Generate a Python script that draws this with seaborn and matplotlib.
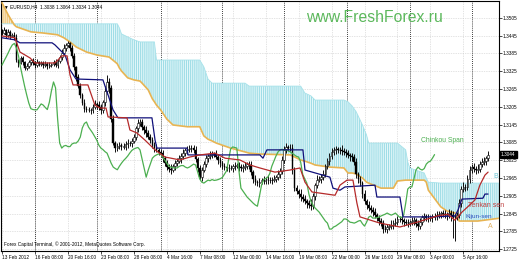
import numpy as np
import matplotlib
matplotlib.use("Agg")
import matplotlib.pyplot as plt
import seaborn as sns
from matplotlib.transforms import blended_transform_factory

sns.set_style("white")
plt.rcParams['font.family'] = ['Liberation Sans', 'DejaVu Sans']
plt.rcParams['hatch.linewidth'] = 0.8

# ---------------- data (EURUSD H4) ----------------
closes = [
    1.3455, 1.3465, 1.3448, 1.3458, 1.3444, 1.3448, 1.3438, 1.3363, 1.3353, 1.3370,
    1.3356, 1.3336, 1.3343, 1.3356, 1.3363, 1.3353, 1.3346, 1.3356, 1.3350, 1.3353,
    1.3346, 1.3350, 1.3343, 1.3346, 1.3350, 1.3356,
    1.3346, 1.3360, 1.3373, 1.3387, 1.3402, 1.3414, 1.3419, 1.3404, 1.3377, 1.3338,
    1.3306, 1.3274, 1.3245, 1.3218, 1.3199, 1.3196, 1.3195, 1.3195, 1.3205, 1.3215,
    1.3211, 1.3203, 1.3196, 1.3221, 1.3259, 1.3289, 1.3269, 1.3164, 1.3083, 1.3066,
    1.3073, 1.3075, 1.3071, 1.3071, 1.3080, 1.3083, 1.3083, 1.3090, 1.3103, 1.3134,
    1.3149, 1.3154, 1.3137, 1.3127, 1.3117, 1.3105, 1.3093, 1.3076, 1.3066, 1.3061,
    1.3054, 1.3049, 1.3032, 1.3015, 1.3002, 1.2997, 1.2993, 1.3005, 1.3015, 1.3024,
    1.3031, 1.3039, 1.3049, 1.3058, 1.3063, 1.3066, 1.3068, 1.3060, 1.3029, 1.2999,
    1.2968, 1.2992, 1.3012, 1.3032, 1.3039, 1.3043, 1.3046, 1.3046, 1.3036, 1.3026,
    1.3015, 1.3005, 1.3002, 1.3000, 1.2999, 1.2999, 1.3004, 1.3007, 1.3007, 1.3002,
    1.2999, 1.3002, 1.3007, 1.3012, 1.3009, 1.2985, 1.2962, 1.2951, 1.2948, 1.2953,
    1.2958, 1.2956, 1.2960, 1.2957, 1.2958, 1.2960, 1.2963, 1.2967, 1.2978, 1.2989,
    1.3026, 1.3063, 1.3070, 1.3068, 1.3066, 1.2992, 1.2931, 1.2921, 1.2911, 1.2901,
    1.2894, 1.2887, 1.2880, 1.2874, 1.2870, 1.2904, 1.2941, 1.2960, 1.2963, 1.2968,
    1.2980, 1.3005, 1.3022, 1.3039, 1.3053, 1.3060, 1.3062, 1.3058, 1.3060, 1.3056,
    1.3053, 1.3048, 1.3043, 1.3038, 1.3036, 1.3019, 1.2977, 1.2962, 1.2948, 1.2911,
    1.2886, 1.2874, 1.2864, 1.2857, 1.2850, 1.2840, 1.2830, 1.2820, 1.2813, 1.2793,
    1.2793, 1.2800, 1.2803, 1.2808, 1.2813, 1.2818, 1.2827, 1.2827, 1.2822, 1.2816,
    1.2815, 1.2813, 1.2816, 1.2820, 1.2822, 1.2811, 1.2803, 1.2816, 1.2833, 1.2837,
    1.2830, 1.2830, 1.2832, 1.2833, 1.2837, 1.2840, 1.2843, 1.2847, 1.2843, 1.2840,
    1.2843, 1.2847, 1.2840, 1.2833, 1.2832, 1.2840, 1.2880, 1.2928, 1.2935, 1.2935,
    1.2962, 1.2992, 1.3002, 1.2995, 1.2992, 1.2997, 1.3012, 1.3019, 1.3022, 1.3032,
    1.3044,
]
upper_wick_pips = [
    6, 9, 4, 8, 5, 7, 10, 12, 5, 8, 6, 4, 9, 7, 5, 8, 6, 10, 4, 7,
    5, 8, 6, 9, 4, 7, 10, 6, 8, 12, 15, 7, 9, 5, 11, 8, 6, 9, 12, 7,
    14, 8, 10, 6, 9, 12, 7, 15, 10, 8, 18, 25, 12, 9, 14, 7, 10, 13, 8, 11,
    9, 14, 7, 10, 12, 8, 16, 9, 11, 7, 13, 10, 8, 12, 9, 15, 7, 10, 11, 8,
    12, 9, 14, 8, 10, 7, 11, 9, 13, 8, 10, 12, 7, 9, 14, 8, 11, 10, 9, 12,
    8, 13, 10, 7, 15, 9, 11, 8, 12, 10, 14, 9, 7, 11, 8, 13, 10, 9, 12, 8,
    10, 12, 8, 14, 9, 11, 7, 13, 10, 16, 12, 9, 11, 8, 14, 10, 12, 9, 13, 7,
    11, 15, 9, 12, 8, 18, 10, 13, 9, 11, 20, 12, 8, 14, 10, 9, 12, 8, 11, 10,
    14, 9, 12, 8, 11, 16, 10, 9, 13, 8, 12, 10, 15, 9, 11, 8, 13, 10, 12, 9,
    11, 14, 8, 12, 10, 9, 13, 11, 8, 15, 10, 12, 9, 11, 14, 8, 10, 13, 9, 12,
    10, 8, 12, 14, 9, 11, 8, 13, 10, 12, 9, 15, 11, 8, 10, 13, 9, 12, 10, 14,
    12, 9, 14, 11, 16, 10, 13, 12, 9, 15, 11, 14, 10, 12, 13, 9, 11,
]
lower_wick_pips = [
    8, 5, 10, 6, 9, 4, 7, 6, 14, 5, 9, 7, 5, 8, 10, 6, 9, 5, 7, 8,
    9, 6, 10, 7, 5, 8, 6, 11, 7, 9, 6, 10, 8, 12, 7, 9, 13, 6, 10, 8,
    11, 9, 7, 13, 10, 8, 12, 9, 14, 10, 12, 9, 16, 11, 8, 13, 10, 9, 12, 8,
    10, 12, 9, 14, 8, 11, 13, 10, 9, 12, 15, 8, 11, 10, 13, 9, 12, 8, 14, 10,
    9, 11, 13, 8, 12, 10, 9, 14, 11, 8, 12, 10, 13, 9, 11, 15, 10, 12, 8, 11,
    13, 9, 11, 10, 8, 12, 14, 9, 11, 10, 13, 8, 12, 11, 9, 14, 10, 12, 9, 11,
    12, 10, 14, 9, 11, 13, 8, 12, 10, 11, 9, 14, 10, 12, 8, 13, 11, 9, 12, 10,
    9, 13, 11, 10, 14, 12, 9, 11, 15, 10, 12, 9, 13, 11, 10, 14, 9, 12, 10, 13,
    11, 10, 13, 9, 12, 14, 10, 11, 9, 16, 12, 10, 11, 13, 9, 12, 10, 14, 11, 10,
    12, 11, 9, 14, 10, 12, 11, 13, 9, 11, 14, 10, 12, 9, 11, 13, 10, 12, 11, 9,
    14, 10, 12, 11, 9, 13, 10, 12, 11, 14, 9, 12, 10, 13, 11, 9, 15, 12, 20, 70,
    80, 10, 11, 13, 9, 12, 10, 14, 11, 9, 12, 10, 13, 11, 9, 12, 10,
]
chinkou_shift = 26

tenkan_bars = [0, 6.3, 8.7, 13.6, 16, 25.7, 29.1, 31.6, 33, 34.5, 41.7, 45.1, 47.6, 50.5,
               51.5, 60.7, 62.1, 65.5, 69.4, 74.3, 79.1, 86.4, 91.3, 96.1, 103.4, 108.3,
               115.5, 120.4, 125.2, 132.5, 139.8, 144.7, 147.1, 150.5, 161.7, 164.1, 167.5,
               170.4, 172.3, 173.8, 183.5, 193.2, 201.5, 211.2, 216.5, 219.9, 223.3, 227.2,
               229.6, 232, 234.5, 236]
tenkan_vals = [1.3444, 1.3438, 1.3390, 1.3370, 1.3353, 1.3353, 1.3377, 1.3377, 1.3313, 1.3279,
               1.3279, 1.3211, 1.3201, 1.3201, 1.3171, 1.3168, 1.3127, 1.3117, 1.3093, 1.3060,
               1.3036, 1.3026, 1.3036, 1.3043, 1.3049, 1.3032, 1.3026, 1.3009, 1.2999, 1.2985,
               1.2992, 1.2999, 1.2951, 1.2918, 1.2907, 1.2941, 1.2958, 1.2958, 1.2881, 1.2834,
               1.2813, 1.2800, 1.2816, 1.2837, 1.2843, 1.2823, 1.2850, 1.2875, 1.2891, 1.2941,
               1.2975, 1.2985]

kijun_bars = [0, 6.3, 8.7, 24.3, 25.7, 30.6, 33, 35.9, 49, 51.5, 53.9, 56.3, 72.8, 74.3, 75.2,
              89.8, 90.3, 125.2, 126.7, 128.6, 146.1, 147.1, 159.2, 160.7, 164.1, 166.5, 181.1,
              182, 193.2, 194.7, 207.8, 219.9, 221.4, 223.3, 233.5, 234.5, 236]
kijun_vals = [1.3438, 1.3431, 1.3421, 1.3421, 1.3414, 1.3380, 1.3330, 1.3299, 1.3296, 1.3245,
              1.3195, 1.3168, 1.3168, 1.3093, 1.3066, 1.3066, 1.3043, 1.3043, 1.3032, 1.3060,
              1.3060, 1.2992, 1.2968, 1.2931, 1.2924, 1.2935, 1.2941, 1.2901, 1.2901, 1.2834,
              1.2834, 1.2837, 1.2857, 1.2894, 1.2897, 1.2911, 1.2911]

cloud_bars = [0, 3, 6, 7, 14, 20, 27, 30, 33, 36, 41, 46, 52, 55, 56, 57, 58, 61, 64, 67, 68,
              71, 73, 74, 75, 77, 80, 83, 90, 96, 98, 100, 102, 104, 111, 118, 120, 125, 140,
              145, 147, 150, 152, 159, 166, 168, 170, 172, 175, 177, 178, 184, 190, 192, 196,
              197, 198, 202, 205, 206, 207, 213, 216, 220, 222, 231, 242]
span_a = [1.3556, 1.3515, 1.3481, 1.3475, 1.3458, 1.3454, 1.3448, 1.3438, 1.3424, 1.3407, 1.3390,
          1.3380, 1.3373, 1.3356, 1.3350, 1.3336, 1.3326, 1.3303, 1.3296, 1.3292, 1.3285,
          1.3262, 1.3232, 1.3222, 1.3211, 1.3195, 1.3164, 1.3144, 1.3138, 1.3138, 1.3107,
          1.3096, 1.3090, 1.3083, 1.3066, 1.3053, 1.3049, 1.3046, 1.3043, 1.3026, 1.3022,
          1.3015, 1.3009, 1.3002, 1.2999, 1.2982, 1.2982, 1.2979, 1.2965, 1.2951, 1.2948,
          1.2931, 1.2931, 1.2955, 1.2958, 1.2958, 1.2958, 1.2958, 1.2958, 1.2951, 1.2924,
          1.2868, 1.2854, 1.2847, 1.2820, 1.2820, 1.2830]
span_b = [1.3485, 1.3485, 1.3485, 1.3485, 1.3485, 1.3485, 1.3485, 1.3485, 1.3485, 1.3485, 1.3485,
          1.3485, 1.3485, 1.3485, 1.3485, 1.3471, 1.3451, 1.3441, 1.3431, 1.3424, 1.3424,
          1.3424, 1.3424, 1.3424, 1.3363, 1.3363, 1.3363, 1.3363, 1.3363, 1.3363, 1.3340,
          1.3299, 1.3285, 1.3285, 1.3285, 1.3285, 1.3275, 1.3275, 1.3275, 1.3275, 1.3252,
          1.3242, 1.3228, 1.3228, 1.3228, 1.3222, 1.3208, 1.3188, 1.3144, 1.3110, 1.3083,
          1.3083, 1.3083, 1.3083, 1.3060, 1.3019, 1.2999, 1.2989, 1.2982, 1.2965, 1.2951,
          1.2948, 1.2948, 1.2948, 1.2948, 1.2948, 1.2948]

price_ticks = [1.3505, 1.3445, 1.3385, 1.3325, 1.3265, 1.3205, 1.3145, 1.3085,
               1.3025, 1.2965, 1.2905, 1.2845, 1.2785, 1.2725]
date_tick_bars = [0, 16, 32, 48, 64, 80, 96, 112, 128, 144, 160, 176, 192, 208, 224]
date_labels = ["13 Feb 2012", "16 Feb 08:00", "20 Feb 16:00", "23 Feb 08:00", "28 Feb 08:00",
               "4 Mar 16:00", "7 Mar 08:00", "12 Mar 00:00", "14 Mar 16:00", "19 Mar 08:00",
               "22 Mar 00:00", "26 Mar 16:00", "29 Mar 08:00", "3 Apr 00:00", "5 Apr 16:00"]
separator_bars = [16, 46, 77, 107, 137, 167.5, 198, 228]
last_price = 1.3044

# ---------------- figure ----------------
fig = plt.figure(figsize=(5.2, 2.6), dpi=100)
fig.patch.set_facecolor("white")
ax = fig.add_axes([1 / 520, 9 / 260, 498 / 520, 250 / 260])
ax.set_facecolor("white")

bars = np.arange(len(closes))
c = np.array(closes)
o = np.concatenate([[c[0] + 0.0008], c[:-1]])
hi = np.maximum(o, c) + np.array(upper_wick_pips) * 0.0001
lo = np.minimum(o, c) - np.array(lower_wick_pips) * 0.0001

# grid & separators
ax.set_xticks(date_tick_bars)
ax.set_yticks(price_ticks)
ax.grid(True, color="#c8c8c8", ls=(0, (1, 1.5)), lw=0.5)
for s in separator_bars:
    ax.axvline(s, color="black", ls=(0, (1, 1.5)), lw=0.6, zorder=1)

# cloud
cb = np.array(cloud_bars, dtype=float)
sa = np.array(span_a)
sb = np.array(span_b)
ax.fill_between(cb, sa, sb, where=sb >= sa, interpolate=True, facecolor="#e6f8fa",
                edgecolor="#9fdde6", hatch="||||||||", lw=0, zorder=2)
ax.fill_between(cb, sa, sb, where=sa > sb, interpolate=True, facecolor="#fbeccd",
                edgecolor="#efc57a", hatch="||||||||", lw=0, zorder=2)
sns.lineplot(x=cb, y=sb, ax=ax, color="#a6e2ea", lw=0.6, estimator=None, sort=False, zorder=3)
sns.lineplot(x=cb, y=sa, ax=ax, color="#e8b452", lw=1.2, estimator=None, sort=False, zorder=3)

# candles
ax.vlines(bars, lo, hi, color="black", lw=0.65, zorder=4)
bear = c < o
body_h = np.maximum(np.abs(c - o), 0.00008)
ax.bar(bars[bear], body_h[bear], bottom=np.minimum(o, c)[bear], width=0.8,
       color="black", edgecolor="black", lw=0.3, zorder=5)
ax.bar(bars[~bear], body_h[~bear], bottom=np.minimum(o, c)[~bear], width=0.8,
       color="white", edgecolor="black", lw=0.4, zorder=5)

# indicator lines
sns.lineplot(x=bars[chinkou_shift:] - chinkou_shift, y=c[chinkou_shift:], ax=ax,
             color="#4caf50", lw=0.9, estimator=None, sort=False, zorder=6)
sns.lineplot(x=kijun_bars, y=kijun_vals, ax=ax, color="#10107a", lw=0.9,
             estimator=None, sort=False, zorder=7)
sns.lineplot(x=tenkan_bars, y=tenkan_vals, ax=ax, color="#b52a2a", lw=0.9,
             estimator=None, sort=False, zorder=8)

# limits & axes
ax.set_xlim(-0.49, 241.3)
ax.set_ylim(1.2719, 1.3562)
ax.set_xlabel("")
ax.set_ylabel("")
ax.yaxis.tick_right()
ax.set_yticklabels([f"{p:.4f}" for p in price_ticks])
ax.set_xticklabels(date_labels, ha="left")
ax.tick_params(axis="both", labelsize=3.4, length=2, width=0.5, pad=0.8, colors="black",
               direction="out")
ax.tick_params(axis="y", right=True, left=False)
ax.tick_params(axis="x", bottom=True)
for sp in ax.spines.values():
    sp.set_color("black")
    sp.set_linewidth(0.8)

# texts
ax.text(0.006, 0.988, "▼ EURUSD,H4  1.3038 1.3064 1.3034 1.3044", transform=ax.transAxes,
        fontsize=3.4, va="top", ha="left", color="black",
        family=["Liberation Sans", "DejaVu Sans"])
ax.text(0.749, 0.936, "www.FreshForex.ru", transform=ax.transAxes, fontsize=11.3,
        color="#5cb85c", ha="center", va="center")
ax.text(0.006, 0.028, "Forex Capital Terminal, © 2001-2012, MetaQuotes Software Corp.",
        transform=ax.transAxes, fontsize=3.4, va="center", ha="left", color="black")
ax.text(203.4, 1.3090, "Chinkou Span", fontsize=4.9, color="#4caf50", va="center", ha="left")
ax.text(226.2, 1.2871, "Tenkan sen", fontsize=5.0, color="#c04040", va="center", ha="left")
ax.text(224.8, 1.2837, "Kijun-sen", fontsize=4.6, color="#3050c0", va="center", ha="left")
ax.text(238.6, 1.2969, "B", fontsize=5.0, color="#6cc4d4", va="center", ha="left")
ax.text(235.8, 1.2800, "A", fontsize=5.0, color="#e0b060", va="center", ha="left")

trans = blended_transform_factory(ax.transAxes, ax.transData)
ax.text(1.004, last_price, f"{last_price:.4f}", transform=trans, fontsize=3.4, color="white",
        va="center", ha="left",
        bbox=dict(boxstyle="square,pad=0.25", facecolor="black", edgecolor="black"))

fig.savefig("out.png", dpi=100, facecolor="white")
